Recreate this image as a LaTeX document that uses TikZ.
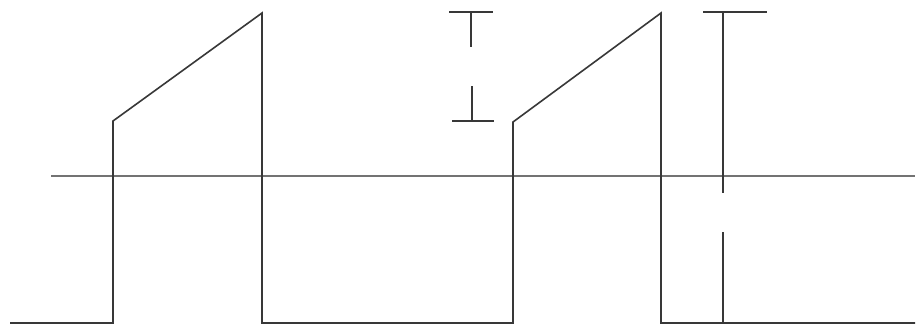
\documentclass[tikz,border=0pt]{standalone}
\begin{document}
\begin{tikzpicture}[x=1pt,y=-1pt,
  wave/.style={draw=black!78,line width=1.6pt,line join=miter},
  axisline/.style={draw=black!55,line width=2pt},
  marker/.style={draw=black!78,line width=1.6pt}]
\useasboundingbox[fill=white] (0,0) rectangle (920,329);
% axis
\coordinate (axL) at (51,176);
\coordinate (axR) at (915,176);
\draw[axisline] (axL) -- (axR);
% waveform
\coordinate (w0) at (10,323);
\coordinate (w1) at (113,323);
\coordinate (w2) at (113,121);
\coordinate (w3) at (262,13);
\coordinate (w4) at (262,323);
\coordinate (w5) at (513,323);
\coordinate (w6) at (513,122);
\coordinate (w7) at (661,13);
\coordinate (w8) at (661,323);
\coordinate (w9) at (915,323);
\draw[wave] (w0) -- (w1) -- (w2) -- (w3) -- (w4) -- (w5) -- (w6) -- (w7) -- (w8) -- (w9);
% small marker
\coordinate (a1) at (449,12);
\coordinate (a2) at (493,12);
\coordinate (a3) at (471,12);
\coordinate (a4) at (471,47);
\draw[marker] (a1) -- (a2);
\draw[marker] (a3) -- (a4);
\coordinate (b1) at (452,121);
\coordinate (b2) at (494,121);
\coordinate (b3) at (472,121);
\coordinate (b4) at (472,86);
\draw[marker] (b1) -- (b2);
\draw[marker] (b3) -- (b4);
% large marker
\coordinate (c1) at (703,12);
\coordinate (c2) at (767,12);
\coordinate (c3) at (723,12);
\coordinate (c4) at (723,193);
\coordinate (c5) at (723,232);
\coordinate (c6) at (723,323);
\draw[marker] (c1) -- (c2);
\draw[marker] (c3) -- (c4);
\draw[marker] (c5) -- (c6);
\end{tikzpicture}
\end{document}
